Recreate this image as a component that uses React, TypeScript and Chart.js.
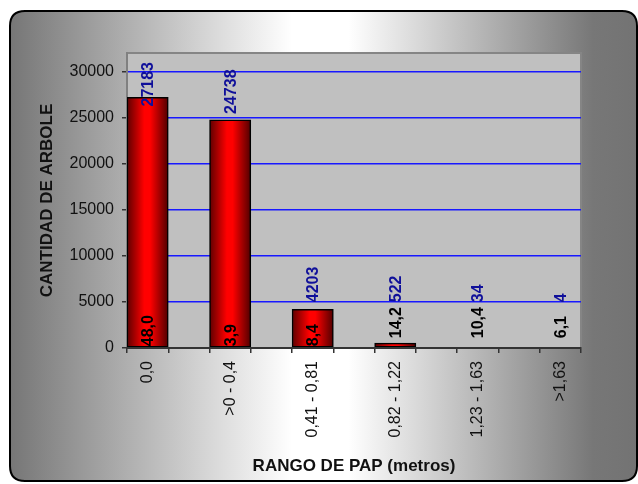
import React, { useEffect, useRef } from 'react';
import { Chart, registerables } from 'chart.js';

Chart.register(...registerables);

const categories = ['0,0', '>0 - 0,4', '0,41 - 0,81', '0,82 - 1,22', '1,23 - 1,63', '>1,63'];
const counts = [27183, 24738, 4203, 522, 34, 4];
const percents = [48.0, 3.9, 8.4, 14.2, 10.4, 6.1];
const yTicks = [0, 5000, 10000, 15000, 20000, 25000, 30000];
const yMax = 32000;

const FONT = "'Liberation Sans', Arial, Helvetica, sans-serif";

const slotLabels = Array.from({ length: categories.length * 2 - 1 }, (_, i) =>
  i % 2 === 0 ? categories[i / 2] : ''
);
const slotCounts = Array.from({ length: categories.length * 2 - 1 }, (_, i) =>
  i % 2 === 0 ? counts[i / 2] : null
);

const fmtPct = (v: number) => v.toFixed(1).replace('.', ',');

const backgroundPlugin = {
  id: 'bgPlugin',
  beforeDraw(chart: any) {
    const { ctx, chartArea } = chart;
    ctx.save();
    const x0 = 10, y0 = 11, x1 = 637, y1 = 481, r = 15;
    const g = ctx.createLinearGradient(x0, 0, x1, 0);
    g.addColorStop(0, '#767676');
    g.addColorStop(0.45, '#ffffff');
    g.addColorStop(0.54, '#ffffff');
    g.addColorStop(0.93, '#777777');
    g.addColorStop(1, '#737373');
    ctx.beginPath();
    ctx.moveTo(x0 + r, y0);
    ctx.lineTo(x1 - r, y0);
    ctx.quadraticCurveTo(x1, y0, x1, y0 + r);
    ctx.lineTo(x1, y1 - r);
    ctx.quadraticCurveTo(x1, y1, x1 - r, y1);
    ctx.lineTo(x0 + r, y1);
    ctx.quadraticCurveTo(x0, y1, x0, y1 - r);
    ctx.lineTo(x0, y0 + r);
    ctx.quadraticCurveTo(x0, y0, x0 + r, y0);
    ctx.closePath();
    ctx.fillStyle = g;
    ctx.fill();
    ctx.lineWidth = 2;
    ctx.strokeStyle = '#000';
    ctx.stroke();
    ctx.fillStyle = '#c0c0c0';
    ctx.fillRect(chartArea.left, chartArea.top, chartArea.right - chartArea.left, chartArea.bottom - chartArea.top);
    ctx.strokeStyle = '#858585';
    ctx.lineWidth = 2;
    ctx.beginPath();
    ctx.moveTo(chartArea.left, chartArea.bottom);
    ctx.lineTo(chartArea.left, chartArea.top);
    ctx.lineTo(chartArea.right, chartArea.top);
    ctx.lineTo(chartArea.right, chartArea.bottom);
    ctx.stroke();
    ctx.restore();
  },
};

const labelPlugin = {
  id: 'valueLabels',
  afterDatasetsDraw(chart: any) {
    const { ctx, chartArea } = chart;
    const meta = chart.getDatasetMeta(0);
    ctx.save();
    ctx.font = `bold 16px ${FONT}`;
    ctx.textAlign = 'left';
    ctx.textBaseline = 'middle';
    const drawRot = (text: string, x: number, bottom: number, color: string) => {
      ctx.save();
      ctx.translate(x, bottom);
      ctx.rotate(-Math.PI / 2);
      ctx.fillStyle = color;
      ctx.fillText(text, 0, 0);
      ctx.restore();
    };
    meta.data.forEach((el: any, i: number) => {
      if (i % 2 !== 0) return;
      const k = i / 2;
      const { x, y, base } = el.getProps(['x', 'y', 'base'], true);
      const h = base - y;
      const blackBottom = h > 20 ? base - 1 : base - 9;
      drawRot(fmtPct(percents[k]), x + 1, blackBottom, '#000000');
      const txt = String(counts[k]);
      const w = ctx.measureText(txt).width;
      let blueBottom = Math.min(y - 6, base - 45);
      blueBottom = Math.max(blueBottom, chartArea.top + 9 + w);
      drawRot(txt, x + 1, blueBottom, '#10109a');
    });
    ctx.restore();
  },
};

export default function App() {
  const ref = useRef<HTMLCanvasElement | null>(null);

  useEffect(() => {
    if (!ref.current) return;
    const chart = new Chart(ref.current, {
      type: 'bar',
      data: {
        labels: slotLabels,
        datasets: [
          {
            data: slotCounts as any,
            backgroundColor: (c: any) => {
              const ch = c.chart;
              const xs = ch.scales && ch.scales.x;
              if (!xs || c.dataIndex == null || !ch.chartArea) return '#e00000';
              const cx = xs.getPixelForValue(c.dataIndex);
              const half = (ch.chartArea.right - ch.chartArea.left) / slotLabels.length / 2;
              const g = ch.ctx.createLinearGradient(cx - half, 0, cx + half, 0);
              g.addColorStop(0, '#5e0000');
              g.addColorStop(0.42, '#ff0000');
              g.addColorStop(0.56, '#ff0000');
              g.addColorStop(1, '#500000');
              return g;
            },
            borderColor: '#000000',
            borderWidth: 1.5,
            borderSkipped: false,
            barPercentage: 1,
            categoryPercentage: 1,
          },
        ],
      },
      options: {
        responsive: false,
        animation: false,
        devicePixelRatio: 1,
        layout: { padding: { top: 53, right: 57, left: 0, bottom: 0 } },
        plugins: {
          legend: { display: false },
          tooltip: { enabled: false },
          title: { display: false },
        },
        scales: {
          x: {
            type: 'category',
            offset: true,
            grid: {
              display: true,
              offset: true,
              drawOnChartArea: false,
              drawTicks: true,
              tickLength: 5,
              color: '#333333',
              tickColor: '#333333',
              lineWidth: 1.5,
            },
            border: { display: true, color: '#333333', width: 2, z: 1 },
            ticks: {
              autoSkip: false,
              minRotation: 90,
              maxRotation: 90,
              padding: 8,
              color: '#111111',
              font: { family: FONT, size: 16 },
            },
            title: {
              display: true,
              text: 'RANGO DE PAP (metros)',
              color: '#111111',
              font: { family: FONT, size: 17, weight: 'bold' },
              padding: { top: 0, bottom: 7.8 },
            },
            afterFit: (s: any) => {
              s.height = 136;
            },
          },
          y: {
            type: 'linear',
            min: 0,
            max: yMax,
            grid: {
              display: true,
              drawOnChartArea: true,
              color: 'rgb(24, 24, 255)',
              tickColor: '#333333',
              tickLength: 5,
              lineWidth: 1.5,
            },
            border: { display: true, color: '#808080', width: 2 },
            afterBuildTicks: (s: any) => {
              s.ticks = yTicks.map((v) => ({ value: v }));
            },
            ticks: {
              padding: 8,
              color: '#111111',
              font: { family: FONT, size: 16 },
              callback: (v: any) => String(v),
            },
            title: {
              display: true,
              text: 'CANTIDAD DE ARBOLE',
              color: '#111111',
              font: { family: FONT, size: 17, weight: 'bold' },
              padding: { top: 36.8, bottom: 0 },
            },
            afterFit: (s: any) => {
              s.width = 127;
            },
          },
        },
      } as any,
      plugins: [backgroundPlugin, labelPlugin],
    });
    return () => chart.destroy();
  }, []);

  return (
    <div style={{ position: 'fixed', left: 0, top: 0, width: 638, height: 484 }}>
      <canvas ref={ref} width={638} height={484} style={{ width: 638, height: 484, display: 'block' }} />
    </div>
  );
}
